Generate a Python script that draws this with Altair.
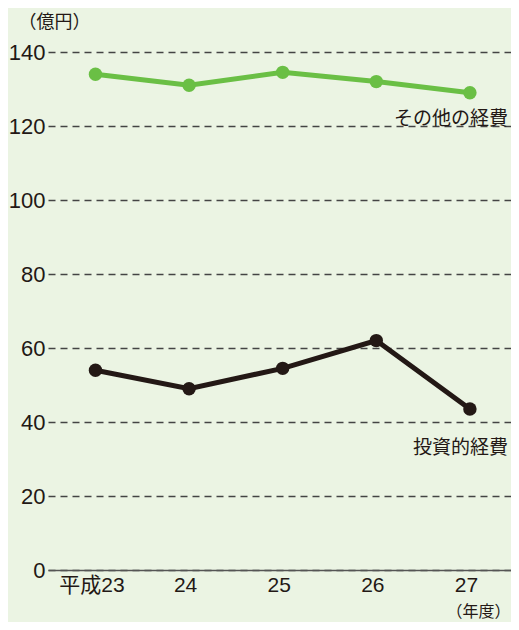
import altair as alt
import pandas as pd

years = ["平成23", "24", "25", "26", "27"]
other = [134, 131, 134.5, 132, 129]
invest = [54, 49, 54.5, 62, 43.5]
series_names = ["その他の経費", "投資的経費"]
label_values = [122, 33]
colors = ["#6abf45", "#231815"]
y_ticks = [0, 20, 40, 60, 80, 100, 120, 140]

rows = []
for yr, v in zip(years, other):
    rows.append({"year": yr, "value": v, "series": series_names[0]})
for yr, v in zip(years, invest):
    rows.append({"year": yr, "value": v, "series": series_names[1]})
df = pd.DataFrame(rows)
labels = pd.DataFrame({"year": [years[-1]] * 2, "value": label_values, "series": series_names})

FONT = "Noto Sans CJK JP"
NUMFONT = "Liberation Sans, Noto Sans CJK JP"
TXT = "#231815"

x = alt.X(
    "year:N", sort=years,
    scale=alt.Scale(type="point", padding=0.473, align=0.536),
    axis=alt.Axis(
        title="（年度）", labelAngle=0, ticks=False, domainColor="#555", domainWidth=1.5,
        labelFont=NUMFONT, labelFontSize=21, labelPadding=4, labelOffset=-4, labelColor=TXT,
        titleAlign="right", titleBaseline="middle", titleX=462, titleY=41,
        titleFontSize=16, titleFontWeight="normal", titleColor=TXT, grid=False,
    ),
)
y = alt.Y(
    "value:Q",
    scale=alt.Scale(domain=[0, 140]),
    axis=alt.Axis(
        values=y_ticks, title="（億円）", titleAngle=0, titleAlign="left", titleBaseline="middle",
        titleX=-30, titleY=-30, titleFontSize=18, titleFontWeight="normal", titleColor=TXT,
        domain=False, ticks=False, gridDash=[7, 5], gridColor="#444", gridWidth=1.3,
        labelFont=NUMFONT, labelFontSize=22, labelPadding=3, labelColor=TXT,
    ),
)
color = alt.Color("series:N", scale=alt.Scale(domain=series_names, range=colors), legend=None)

base = alt.Chart(df).encode(x=x, y=y, color=color)
lines = base.mark_line(strokeWidth=5)
points = base.mark_point(filled=True, size=180, opacity=1)
texts = alt.Chart(labels).mark_text(align="right", baseline="middle", dx=38, fontSize=19, color=TXT, font=FONT).encode(
    x=alt.X("year:N", sort=years), y="value:Q", text="series:N"
)

chart = alt.layer(lines, points, texts).properties(
    width=463, height=518,
    autosize=alt.AutoSizeParams(type="none"),
    padding={"left": 40, "top": 44, "right": 0, "bottom": 52},
).configure(background="#ebf4e3", font=FONT).configure_view(stroke=None)

chart.save("out.html", embed_options={"renderer": "svg", "actions": False})
